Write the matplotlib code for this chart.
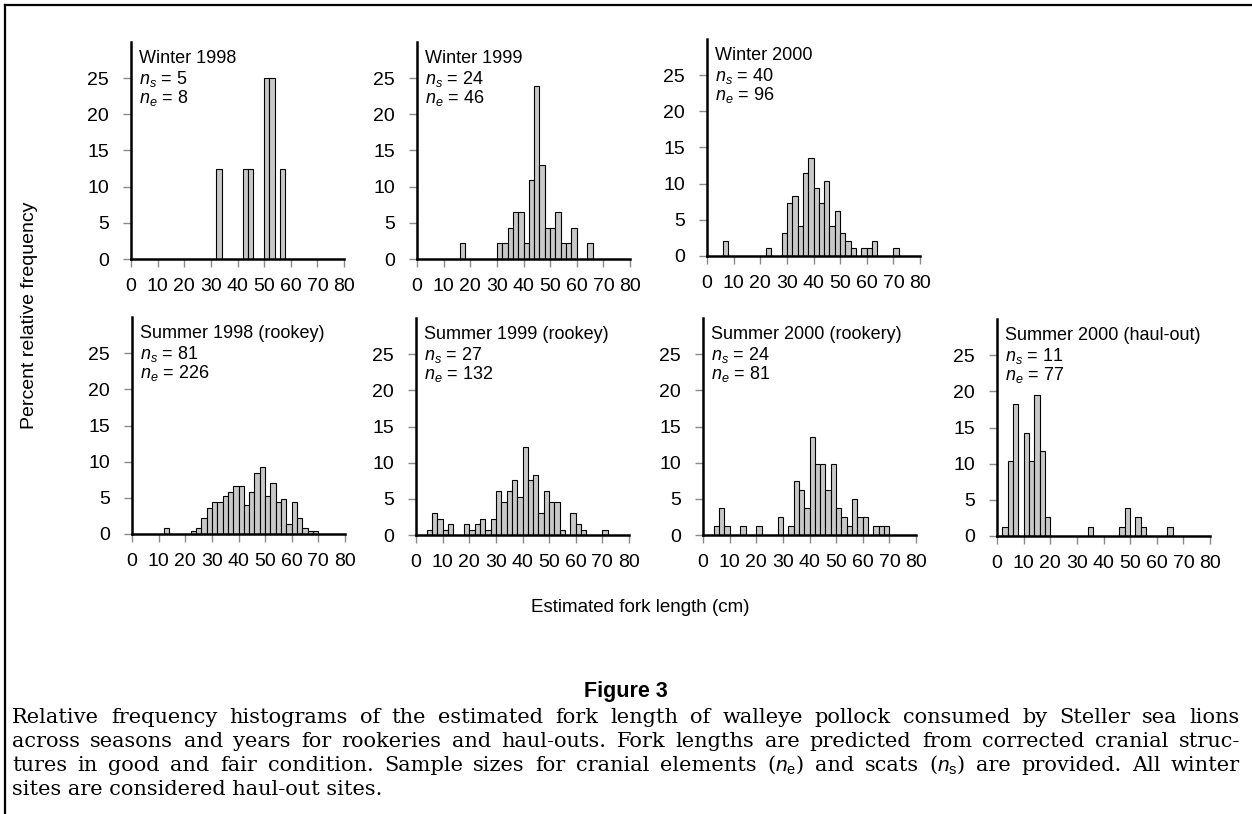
import matplotlib
matplotlib.use("Agg")
import matplotlib.pyplot as plt
from matplotlib.lines import Line2D

plt.rcParams['font.family'] = ['Liberation Sans', 'DejaVu Sans']
plt.rcParams['mathtext.fontset'] = 'custom'
plt.rcParams['mathtext.it'] = 'Liberation Sans:italic'
plt.rcParams['mathtext.rm'] = 'Liberation Sans'

# ---------------- data (2-cm bins: left edge, percent) ----------------
w98_edges = [32, 42, 44, 50, 52, 56]
w98_pct = [12.5, 12.5, 12.5, 25, 25, 12.5]

w99_edges = [16, 30, 32, 34, 36, 38, 40, 42, 44, 46, 48, 50, 52, 54, 56, 58, 64]
w99_pct = [2.17, 2.17, 2.17, 4.35, 6.52, 6.52, 2.17, 10.87, 23.91, 13.04, 4.35,
           4.35, 6.52, 2.17, 2.17, 4.35, 2.17]

w00_edges = [6, 22, 28, 30, 32, 34, 36, 38, 40, 42, 44, 46, 48, 50, 52, 54, 58, 60, 62, 70]
w00_pct = [2.08, 1.04, 3.13, 7.29, 8.33, 4.17, 11.46, 13.54, 9.38, 7.29, 10.42,
           4.17, 6.25, 3.13, 2.08, 1.04, 1.04, 1.04, 2.08, 1.04]

s98_edges = [12, 22, 24, 26, 28, 30, 32, 34, 36, 38, 40, 42, 44, 46, 48, 50, 52,
             54, 56, 58, 60, 62, 64, 66, 68]
s98_pct = [0.88, 0.44, 0.88, 2.21, 3.54, 4.42, 4.42, 5.31, 5.75, 6.64, 6.64, 3.98,
           5.75, 8.41, 9.29, 5.31, 7.08, 4.42, 4.87, 1.33, 4.42, 2.21, 0.88, 0.44, 0.44]

s99_edges = [4, 6, 8, 10, 12, 18, 20, 22, 24, 26, 28, 30, 32, 34, 36, 38, 40, 42,
             44, 46, 48, 50, 52, 54, 58, 60, 62, 70]
s99_pct = [0.76, 3.03, 2.27, 0.76, 1.52, 1.52, 0.76, 1.52, 2.27, 0.76, 2.27, 6.06,
           4.55, 6.06, 7.58, 5.30, 12.12, 7.58, 8.33, 3.03, 6.06, 4.55, 4.55, 0.76,
           3.03, 1.52, 0.76, 0.76]

s00r_edges = [4, 6, 8, 14, 20, 28, 32, 34, 36, 38, 40, 42, 44, 46, 48, 50, 52, 54,
              56, 58, 60, 64, 66, 68]
s00r_pct = [1.23, 3.70, 1.23, 1.23, 1.23, 2.47, 1.23, 7.41, 6.17, 3.70, 13.58, 9.88,
            9.88, 6.17, 9.88, 3.70, 2.47, 1.23, 4.94, 2.47, 2.47, 1.23, 1.23, 1.23]

s00h_edges = [2, 4, 6, 10, 12, 14, 16, 18, 34, 46, 48, 52, 54, 64]
s00h_pct = [1.30, 10.39, 18.18, 14.29, 10.39, 19.48, 11.69, 2.60, 1.30, 1.30,
            3.90, 2.60, 1.30, 1.30]

titles = ["Winter 1998", "Winter 1999", "Winter 2000",
          "Summer 1998 (rookey)", "Summer 1999 (rookey)",
          "Summer 2000 (rookery)", "Summer 2000 (haul-out)"]
n_scats = [5, 24, 40, 81, 27, 24, 11]
n_elem = [8, 46, 96, 226, 132, 81, 77]
x_ticks = [0, 10, 20, 30, 40, 50, 60, 70, 80]
y_ticks = [0, 5, 10, 15, 20, 25]
bin_width = 2

panels = [(w98_edges, w98_pct), (w99_edges, w99_pct), (w00_edges, w00_pct),
          (s98_edges, s98_pct), (s99_edges, s99_pct), (s00r_edges, s00r_pct),
          (s00h_edges, s00h_pct)]

# ---------------- layout (pixels) ----------------
W, H = 1252, 814
fig = plt.figure(figsize=(W / 100, H / 100), dpi=100)
origins = [(131, 259), (417, 259), (707, 256),
           (132, 534), (416, 535), (703, 535), (997, 536)]
ax_w, ax_h = 213, 217

for i, ((edges, pct), (x0, y0)) in enumerate(zip(panels, origins)):
    ax = fig.add_axes([x0 / W, 1 - y0 / H, ax_w / W, ax_h / H])
    ax.bar(edges, pct, width=bin_width, align='edge', color='#c8c8c8',
           edgecolor='black', linewidth=0.8, zorder=2)
    ax.set_xlim(0, 80)
    ax.set_ylim(0, 30)
    ax.set_xticks(x_ticks)
    ax.set_yticks(y_ticks)
    for s in ['top', 'right']:
        ax.spines[s].set_visible(False)
    for s in ['left', 'bottom']:
        ax.spines[s].set_linewidth(1.8)
        ax.spines[s].set_zorder(3)
    ax.tick_params(axis='both', direction='out', length=6, width=1,
                   color='#8a8a8a', labelsize=14, labelcolor='black')
    ax.tick_params(axis='y', pad=10)
    ax.tick_params(axis='x', pad=8)
    ax.patch.set_alpha(0)
    ax.text(8 / ax_w, 196 / ax_h, titles[i], transform=ax.transAxes,
            fontsize=13, va='baseline', ha='left')
    ax.text(8 / ax_w, 175 / ax_h, r'$n_s$' + f' = {n_scats[i]}',
            transform=ax.transAxes, fontsize=13, va='baseline', ha='left')
    ax.text(8 / ax_w, 156 / ax_h, r'$n_e$' + f' = {n_elem[i]}',
            transform=ax.transAxes, fontsize=13, va='baseline', ha='left')

fig.text(30 / W, 1 - 315 / H, "Percent relative frequency", rotation=90,
         ha='center', va='center', fontsize=14)
fig.text(640 / W, 1 - 608 / H, "Estimated fork length (cm)",
         ha='center', va='center', fontsize=13.5)

# frame lines
fig.add_artist(Line2D([5 / W, 5 / W], [0, 1 - 5 / H], transform=fig.transFigure,
                      color='black', linewidth=1.6))
fig.add_artist(Line2D([5 / W, 1], [1 - 5 / H, 1 - 5 / H], transform=fig.transFigure,
                      color='black', linewidth=1.6))

fig.text(626 / W, 1 - 697 / H, "Figure 3", ha='center', va='baseline',
         fontsize=15.5, fontweight='bold',
         family=['Liberation Sans Narrow', 'Liberation Sans'])

caption_lines = [
    "Relative frequency histograms of the estimated fork length of walleye pollock consumed by Steller sea lions",
    "across seasons and years for rookeries and haul-outs. Fork lengths are predicted from corrected cranial struc-",
    r"tures in good and fair condition. Sample sizes for cranial elements ($n_\mathrm{e}$) and scats ($n_\mathrm{s}$) are provided. All winter",
    "sites are considered haul-out sites.",
]
cap_left, cap_right = 12, 1240
cap_base = [723, 747, 771, 795]
cap_family = ['DejaVu Serif']

fig.canvas.draw()
renderer = fig.canvas.get_renderer()

# choose font size so the longest natural line fits the measure
probe = fig.text(0, 0, caption_lines[1], fontsize=13, family=cap_family)
nat = probe.get_window_extent(renderer).width
probe.remove()
cap_size = min(15.0, 13 * (cap_right - cap_left) / nat * 0.995)
cap_font = dict(fontsize=cap_size, family=cap_family, va='baseline', ha='left')

for li, line in enumerate(caption_lines):
    ybase = 1 - cap_base[li] / H
    if li == len(caption_lines) - 1:
        fig.text(cap_left / W, ybase, line, **cap_font)
        continue
    words = line.split(' ')
    txts = [fig.text(0, ybase, wd, **cap_font) for wd in words]
    widths = [t.get_window_extent(renderer).width for t in txts]
    gap = (cap_right - cap_left - sum(widths)) / (len(words) - 1)
    x = cap_left
    for t, wdt in zip(txts, widths):
        t.set_x(x / W)
        x += wdt + gap

fig.savefig("out.png", dpi=100)
